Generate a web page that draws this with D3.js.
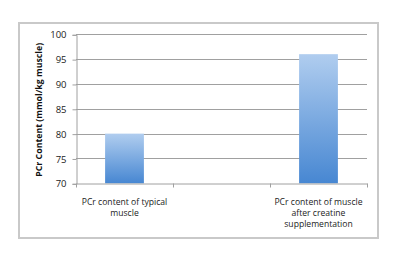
<!DOCTYPE html>
<html><head><meta charset="utf-8">
<script src="https://cdn.jsdelivr.net/npm/d3@7"></script>
<style>html,body{margin:0;padding:0;background:#fff;}svg{display:block;}</style>
</head><body>
<script>
const categories = ["PCr content of typical|muscle", "", "PCr content of muscle|after creatine|supplementation"];
const values = [80, null, 96];
const yTicks = [70, 75, 80, 85, 90, 95, 100];
const yTitle = "PCr Content (mmol/kg muscle)";

(function () {
const W = 400, H = 259;
const svg = d3.select("body").append("svg").attr("width", W).attr("height", H);

const defs = svg.append("defs");
const grad = defs.append("linearGradient").attr("id", "barGrad")
  .attr("x1", 0).attr("y1", 0).attr("x2", 0).attr("y2", 1);
grad.append("stop").attr("offset", "0%").attr("stop-color", "#b0cdef");
grad.append("stop").attr("offset", "100%").attr("stop-color", "#4787d2");

svg.append("rect").attr("x", 19).attr("y", 23).attr("width", 359).attr("height", 215)
  .attr("fill", "#fff").attr("stroke", "#c9c9c9").attr("stroke-width", 2);

const pL = 76, pR = 367, pT = 34.3, pB = 183.3;
const x = d3.scaleBand().domain(d3.range(categories.length)).range([pL, pR]).padding(0);
const y = d3.scaleLinear().domain([70, 100]).range([pB, pT]);

svg.append("g").selectAll("line").data(yTicks.slice(1)).join("line")
  .attr("x1", pL).attr("x2", pR)
  .attr("y1", d => Math.round(y(d)) + 0.5).attr("y2", d => Math.round(y(d)) + 0.5)
  .attr("stroke", "#a0a0a0").attr("stroke-width", 1);

const yAxis = d3.axisLeft(y).tickValues(yTicks).tickSize(4).tickPadding(6);
const yg = svg.append("g").attr("transform", `translate(${pL + 0.5},0.5)`).call(yAxis);
yg.select(".domain").attr("stroke", "#a0a0a0");
yg.selectAll(".tick line").attr("stroke", "#a0a0a0");
yg.selectAll(".tick text").attr("font-family", "'Open Sans', sans-serif").attr("font-size", 9.5).attr("fill", "#222");

const bw = x.bandwidth() * 0.4;
svg.append("g").selectAll("rect").data(values.map((v, i) => ({v, i})).filter(d => d.v !== null)).join("rect")
  .attr("x", d => x(d.i) + x.bandwidth() / 2 - bw / 2)
  .attr("y", d => y(d.v))
  .attr("width", bw)
  .attr("height", d => y(70) - y(d.v))
  .attr("fill", "url(#barGrad)");

const xAxis = d3.axisBottom(x).tickSize(0).tickFormat("");
const xg = svg.append("g").attr("transform", `translate(0,${Math.round(pB) + 0.5})`).call(xAxis);
xg.select(".domain").attr("stroke", "#a0a0a0");
xg.selectAll(".btick").data(d3.range(categories.length + 1)).join("line")
  .attr("x1", i => Math.round(pL + i * x.step()) + 0.5)
  .attr("x2", i => Math.round(pL + i * x.step()) + 0.5)
  .attr("y1", 0).attr("y2", 4).attr("stroke", "#a0a0a0");

const lg = svg.append("g");
categories.forEach((c, i) => {
  if (!c) return;
  c.split("|").forEach((line, k) => {
    lg.append("text").attr("text-anchor", "middle")
      .attr("font-family", "'Open Sans', sans-serif").attr("font-size", 8.6).attr("fill", "#222")
      .attr("x", x(i) + x.bandwidth() / 2).attr("y", 204.5 + k * 11).text(line);
  });
});

svg.append("text").attr("transform", `translate(42,${(pT + pB) / 2 + 1}) rotate(-90)`)
  .attr("text-anchor", "middle").attr("font-family", "'Open Sans', sans-serif")
  .attr("font-weight", "bold").attr("font-size", 8.8).attr("fill", "#111").text(yTitle);
})();
</script>
</body></html>
